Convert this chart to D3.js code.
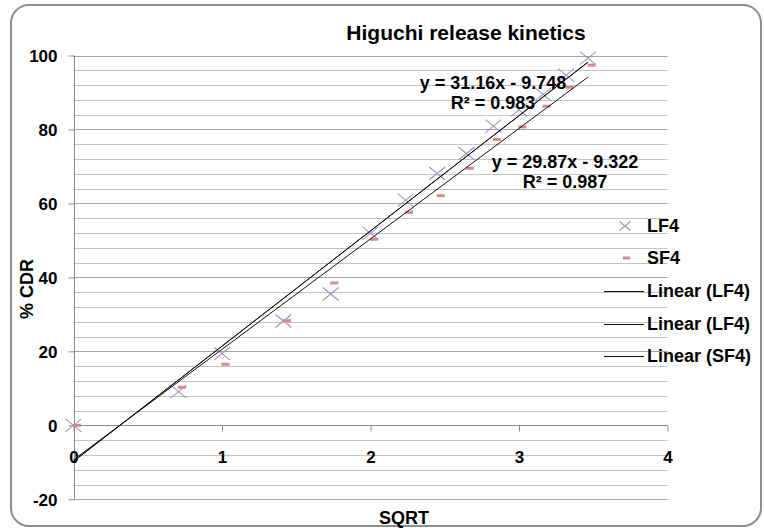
<!DOCTYPE html>
<html>
<head>
<meta charset="utf-8">
<script src="https://cdn.jsdelivr.net/npm/d3@7"></script>
<style>
  html, body { margin: 0; padding: 0; background: #fff; }
  svg { display: block; }
  text { font-family: "Liberation Sans", Arial, sans-serif; font-weight: bold; fill: #000; }
</style>
</head>
<body>
<svg id="chart" width="764" height="528"></svg>
<script>
// Square root of time (x) and cumulative drug release (%) for each formulation
const sqrtTime = [0, 0.707, 1, 1.414, 1.732, 2, 2.236, 2.449, 2.646, 2.828, 3, 3.162, 3.317, 3.464];
const lf4 = [0, 9.1, 19.4, 28.2, 35.5, 51.9, 60.9, 68.1, 73.5, 80.9, 85.3, 89.5, 94.7, 99.3];
const sf4 = [0, 10.3, 16.5, 28.3, 38.5, 50.3, 57.6, 62.1, 69.5, 77.3, 80.7, 86.3, 91.4, 97.4];

// Linear fits as stated on the chart
const fitLF4 = { slope: 31.16, intercept: -9.748, r2: 0.983 };
const fitSF4 = { slope: 29.87, intercept: -9.322, r2: 0.987 };

const xTicks = [0, 1, 2, 3, 4];
const yTicks = [-20, 0, 20, 40, 60, 80, 100];
const legendLabels = ["LF4", "SF4", "Linear (LF4)", "Linear (LF4)", "Linear (SF4)"];

const svg = d3.select("#chart");

// Outer rounded frame
svg.append("rect")
  .attr("x", 11).attr("y", 5).attr("width", 750).attr("height", 521)
  .attr("rx", 18).attr("ry", 18)
  .attr("fill", "#fff").attr("stroke", "#8e8e8e").attr("stroke-width", 2);

const x = d3.scaleLinear().domain([0, 4]).range([73.5, 667.5]);
const y = d3.scaleLinear().domain([-20, 100]).range([499.3, 55.5]);
const crisp = v => Math.round(v) + 0.5;
const plain = d => String(d); // hyphen-minus for negative labels

// Horizontal gridlines every 4 units
svg.append("g").selectAll("line")
  .data(d3.range(-20, 101, 4))
  .join("line")
  .attr("x1", x(0)).attr("x2", x(4))
  .attr("y1", d => crisp(y(d))).attr("y2", d => crisp(y(d)))
  .attr("stroke", d => d % 20 === 0 ? "#a6a6a6" : "#c4c4c4")
  .attr("stroke-width", 1);

// Y axis
const yAxis = svg.append("g")
  .attr("transform", `translate(${crisp(x(0))},0)`)
  .call(d3.axisLeft(y).tickValues(yTicks).tickSize(6).tickPadding(11).tickFormat(plain));
yAxis.select(".domain").attr("stroke", "#8a8a8a").attr("d", `M0,${y(100)}V${y(-20)}`);
yAxis.selectAll(".tick line").attr("stroke", "#8a8a8a");
yAxis.selectAll(".tick text")
  .attr("font-size", 17).attr("font-family", null).attr("dy", "0.36em").attr("x", -17);

// X axis drawn along y = 0
const xAxis = svg.append("g")
  .attr("transform", `translate(0,${crisp(y(0))})`)
  .call(d3.axisBottom(x).tickValues(xTicks).tickSize(6).tickFormat(plain));
xAxis.select(".domain").attr("stroke", "#8a8a8a").attr("d", `M${x(0)},0H${x(4)}`);
xAxis.selectAll(".tick line").attr("stroke", "#8a8a8a");
xAxis.selectAll(".tick text")
  .attr("font-size", 17).attr("font-family", null).attr("y", 37).attr("dy", 0);

// Axis titles and chart title
svg.append("text")
  .attr("x", 466).attr("y", 40).attr("text-anchor", "middle")
  .attr("font-size", 21).text("Higuchi release kinetics");
svg.append("text")
  .attr("x", 404).attr("y", 524).attr("text-anchor", "middle")
  .attr("font-size", 18).text("SQRT");
svg.append("text")
  .attr("transform", "translate(33,289) rotate(-90)").attr("text-anchor", "middle")
  .attr("font-size", 18).text("% CDR");

// LF4 markers (x shape)
const lfColor = "#9d93c9";
const sfColor = "#d88a8a";
const xMark = (cx, cy, hw, hh) => `M${cx - hw},${cy - hh}L${cx + hw},${cy + hh}M${cx - hw},${cy + hh}L${cx + hw},${cy - hh}`;

svg.append("g").selectAll("path")
  .data(sqrtTime.map((t, i) => [t, lf4[i]]))
  .join("path")
  .attr("d", d => xMark(x(d[0]), y(d[1]), 8, 6.5))
  .attr("stroke", lfColor).attr("stroke-width", 1.1).attr("fill", "none");

// SF4 markers (dash shape)
svg.append("g").selectAll("rect")
  .data(sqrtTime.map((t, i) => [t, sf4[i]]))
  .join("rect")
  .attr("x", d => x(d[0]) - 0.5).attr("y", d => y(d[1]) - 1.5)
  .attr("width", 8).attr("height", 3)
  .attr("fill", sfColor);

// Trendlines over the data range
const xMax = d3.max(sqrtTime);
const trend = [fitLF4, fitLF4, fitSF4];
svg.append("g").selectAll("line")
  .data(trend)
  .join("line")
  .attr("x1", x(0)).attr("y1", f => y(f.intercept))
  .attr("x2", x(xMax)).attr("y2", f => y(f.slope * xMax + f.intercept))
  .attr("stroke", "#111").attr("stroke-width", 1);

// Equation labels
const eqLabels = [
  { fit: fitLF4, cx: 493, by: 89 },
  { fit: fitSF4, cx: 565, by: 168 }
];
eqLabels.forEach(e => {
  const sign = e.fit.intercept < 0 ? "-" : "+";
  svg.append("text").attr("x", e.cx).attr("y", e.by).attr("text-anchor", "middle")
    .attr("font-size", 18)
    .text(`y = ${e.fit.slope}x ${sign} ${Math.abs(e.fit.intercept)}`);
  svg.append("text").attr("x", e.cx).attr("y", e.by + 19.5).attr("text-anchor", "middle")
    .attr("font-size", 18)
    .text(`R² = ${e.fit.r2}`);
});

// Legend
const legendY = [232, 264, 296.5, 329.5, 362];
const legend = svg.append("g");
legendLabels.forEach((label, i) => {
  const by = legendY[i];
  const cy = by - 6;
  if (i === 0) {
    legend.append("path").attr("d", xMark(625, cy, 5.5, 4.5))
      .attr("stroke", lfColor).attr("stroke-width", 1.1).attr("fill", "none");
  } else if (i === 1) {
    legend.append("rect").attr("x", 623).attr("y", cy - 1.5).attr("width", 7).attr("height", 3)
      .attr("fill", sfColor);
  } else {
    legend.append("line").attr("x1", 604).attr("x2", 644)
      .attr("y1", crisp(cy)).attr("y2", crisp(cy))
      .attr("stroke", "#111").attr("stroke-width", 1);
  }
  legend.append("text").attr("x", 647).attr("y", by).attr("font-size", 18).text(label);
});
</script>
</body>
</html>
